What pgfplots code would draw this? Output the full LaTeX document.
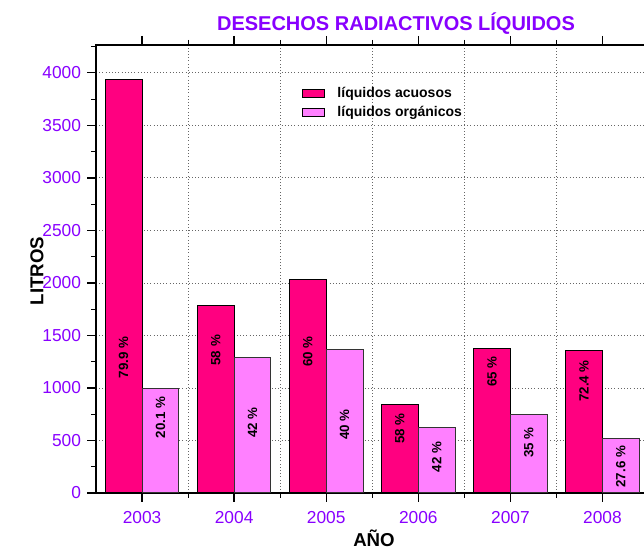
\documentclass[border=0pt]{standalone}
\usepackage{fontspec}
\setmainfont{Liberation Sans}
\usepackage{pgfplots}
\pgfplotsset{compat=1.18}
\definecolor{acuoso}{RGB}{255,0,128}
\definecolor{organico}{RGB}{255,128,255}
\definecolor{violeta}{RGB}{136,0,255}

\begin{document}
\begin{tikzpicture}[x=0.75pt,y=0.75pt]
\begin{axis}[
    at={(72pt,42pt)}, anchor=south west,
    scale only axis,
    width=414.4pt, height=336pt,
    xmin=-0.5, xmax=5.5,
    ymin=0, ymax=4265,
    xtick={0,...,5},
    xticklabels={2003,2004,2005,2006,2007,2008},
    minor xtick={0.5,1.5,2.5,3.5,4.5},
    ytick={0,500,...,4000},
    minor ytick={250,750,...,4250},
    tick align=outside,
    major tick length=6.75pt,
    minor tick length=3.75pt,
    major tick style={black, line width=1pt},
    minor tick style={black, line width=0.8pt},
    axis line style={black, line width=1.1pt},
    ymajorgrids=true,
    xminorgrids=true,
    major grid style={dotted, gray!80!black, line width=0.6pt},
    minor grid style={dotted, gray!80!black, line width=0.6pt},
    /pgf/number format/assume math mode=true,
    /pgf/number format/set thousands separator={},
    ticklabel style={font=\fontsize{13}{15}\selectfont, text=violeta},
    yticklabel style={anchor=east, inner sep=0pt, xshift=-4.3pt},
    xticklabel style={anchor=north, inner sep=0pt, yshift=-6.75pt},
    legend style={at={(0.366,0.918)}, anchor=north west, draw=none, fill=none,
        font=\bfseries\fontsize{10.5}{12}\selectfont, row sep=1.3pt,
        /tikz/every odd column/.append style={column sep=7pt}},
    legend cell align=left,
]
\addplot[ybar, bar width=0.4, bar shift=-0.2, fill=acuoso, draw=black, line width=0.75pt,
    legend image code/.code={\draw[fill=acuoso, draw=black, line width=0.75pt] (0pt,-3pt) rectangle (16.5pt,3pt);}]
    coordinates {(0,3940) (1,1785) (2,2035) (3,842) (4,1377) (5,1360)};
\addplot[ybar, bar width=0.4, bar shift=0.2, fill=organico, draw=black!80, line width=0.75pt,
    legend image code/.code={\draw[fill=organico, draw=black, line width=0.75pt] (0pt,-3pt) rectangle (16.5pt,3pt);}]
    coordinates {(0,992) (1,1293) (2,1363) (3,624) (4,744) (5,519)};
\addplot[draw=none, mark=none, forget plot, nodes near coords, point meta=explicit symbolic,
    nodes near coords style={rotate=90, anchor=center, text=black,
        font=\bfseries\fontsize{10}{12}\selectfont}]
    coordinates {
    (-0.2,1290) [79.9 \%] (0.2,721) [20.1 \%]
    (0.8,1359) [58 \%] (1.2,671) [42 \%]
    (1.8,1345) [60 \%] (2.2,650) [40 \%]
    (2.8,615) [58 \%] (3.2,341) [42 \%]
    (3.8,1155) [65 \%] (4.2,479) [35 \%]
    (4.8,1067) [72.4 \%] (5.2,250) [27.6 \%]
    };
\legend{líquidos acuosos, líquidos orgánicos}
\end{axis}
\node[font=\bfseries\fontsize{15}{18}\selectfont, text=violeta] at (396,525) {DESECHOS RADIACTIVOS LÍQUIDOS};
\node[font=\bfseries\fontsize{14}{17}\selectfont, rotate=90] at (37,278) {LITROS};
\node[font=\bfseries\fontsize{14}{17}\selectfont] at (374,11) {AÑO};
\pgfresetboundingbox
\path[use as bounding box] (0,0) rectangle (644,549);
\end{tikzpicture}
\end{document}
